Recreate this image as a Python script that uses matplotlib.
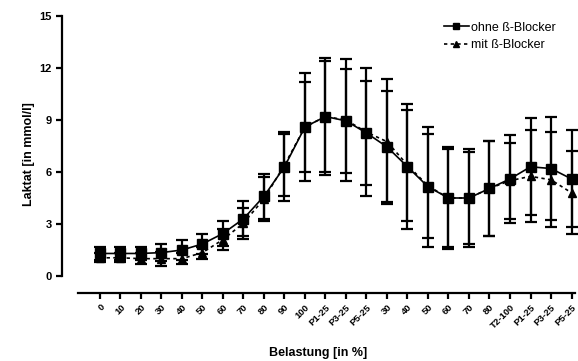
import numpy as np
import matplotlib.pyplot as plt
from matplotlib.lines import Line2D

plt.rcParams['font.family'] = ['Liberation Sans', 'DejaVu Sans']

# Belastungsstufen (x-Achse)
stufen = ['0', '10', '20', '30', '40', '50', '60', '70', '80', '90', '100',
          'P1-25', 'P3-25', 'P5-25', '30', '40', '50', '60', '70', '80',
          'T2-100', 'P1-25', 'P3-25', 'P5-25']

# Laktat ohne Beta-Blocker: Mittelwert und SD
ohne_mw = [1.3, 1.3, 1.3, 1.35, 1.5, 1.85, 2.45, 3.3, 4.6, 6.3, 8.6,
           9.2, 8.95, 8.25, 7.45, 6.3, 5.15, 4.5, 4.5, 5.05,
           5.6, 6.3, 6.2, 5.6]
ohne_sd = [0.4, 0.4, 0.4, 0.5, 0.6, 0.6, 0.7, 1.0, 1.3, 2.0, 3.1,
           3.4, 3.0, 3.0, 3.2, 3.6, 3.45, 2.95, 2.8, 2.75,
           2.55, 2.8, 2.95, 2.8]

# Laktat mit Beta-Blocker
mit_mw = [1.05, 1.05, 1.0, 1.0, 1.0, 1.35, 2.1, 3.05, 4.45, 6.4, 8.6,
          9.2, 9.0, 8.3, 7.75, 6.4, 5.2, 4.5, 4.5, 5.05,
          5.5, 5.75, 5.55, 4.8]
mit_sd = [0.25, 0.25, 0.3, 0.4, 0.3, 0.35, 0.6, 0.9, 1.28, 1.8, 2.6,
          3.2, 3.5, 3.7, 3.6, 3.2, 3.0, 2.8, 2.65, 2.75,
          2.2, 2.65, 2.75, 2.4]

x = np.arange(len(stufen))

fig = plt.figure(figsize=(5.78, 3.61), dpi=100)
ax = fig.add_axes([0.1073, 0.1884, 0.8875, 0.7673])

ax.errorbar(x, ohne_mw, yerr=ohne_sd, color='black', lw=1.2, ls='-',
            marker='s', ms=6.8, elinewidth=1.6, capsize=4.3, capthick=1.6,
            clip_on=False, zorder=3)
ax.errorbar(x, mit_mw, yerr=mit_sd, color='black', lw=1.2, ls=(0, (2, 2)),
            marker='^', ms=6, elinewidth=1.6, capsize=4.3, capthick=1.6,
            clip_on=False, zorder=2)

ax.set_xlim(-1.85, 23.17)
ax.set_ylim(-0.98, 15)

ax.spines['top'].set_visible(False)
ax.spines['right'].set_visible(False)
ax.spines['left'].set_linewidth(1.6)
ax.spines['bottom'].set_linewidth(1.6)
ax.spines['left'].set_bounds(0, 15)
ax.spines['bottom'].set_bounds(-1.07, 23.17)

ax.set_yticks([0, 3, 6, 9, 12, 15])
ax.set_xticks(x)
ax.set_xticklabels(stufen, rotation=45, ha='right', rotation_mode='anchor',
                   fontsize=6.8, fontweight='bold')
for lbl in ax.get_yticklabels():
    lbl.set_fontweight('bold')
    lbl.set_fontsize(8)
ax.tick_params(axis='both', direction='out', length=4, width=1.6)
ax.tick_params(axis='x', pad=3)

ax.set_ylabel('Laktat [in mmol/l]', fontsize=9, fontweight='bold', labelpad=3)
ax.set_xlabel('Belastung [in %]', fontsize=9, fontweight='bold', labelpad=12)

# Legende ohne Fehlerbalken
handles = [Line2D([], [], color='black', lw=1.2, ls='-', marker='s', ms=5),
           Line2D([], [], color='black', lw=1.2, ls=(0, (2, 2)), marker='^', ms=5)]
ax.legend(handles, ['ohne ß-Blocker', 'mit ß-Blocker'], loc='upper right',
          bbox_to_anchor=(0.985, 1.02), frameon=False, fontsize=9,
          handlelength=2.0, handletextpad=0.2, labelspacing=0.45)

fig.savefig('out.png', dpi=100)
